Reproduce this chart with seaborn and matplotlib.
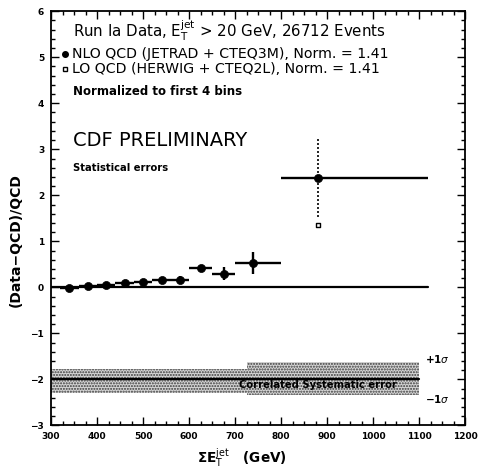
import matplotlib
matplotlib.use("Agg")
import matplotlib.pyplot as plt
import seaborn as sns
import numpy as np
import pandas as pd
from matplotlib.ticker import MultipleLocator

# ---- data ----
nlo_x = [340, 380, 420, 460, 500, 540, 580, 625, 675, 738, 881]
nlo_y = [-0.02, 0.02, 0.05, 0.09, 0.12, 0.16, 0.17, 0.41, 0.30, 0.53, 2.37]
nlo_yerr = [0.02, 0.02, 0.03, 0.04, 0.05, 0.06, 0.07, 0.06, 0.15, 0.24, 0.85]
bin_lo = [320, 360, 400, 440, 480, 520, 560, 600, 650, 700, 800]
bin_hi = [360, 400, 440, 480, 520, 560, 600, 650, 700, 800, 1120]

lo_x = [881]
lo_y = [1.35]

zero_line_x = [300, 1120]
sys_line_x = [300, 1100]
sys_center = -2.0
band_x = [300, 725, 1100]
band_upper = [-1.78, -1.62, -1.62]
band_lower = [-2.29, -2.33, -2.33]

xticks = [300, 400, 500, 600, 700, 800, 900, 1000, 1100, 1200]
yticks = [-3, -2, -1, 0, 1, 2, 3, 4, 5, 6]

sns.set_style("ticks")
plt.rcParams['font.family'] = ['DejaVu Sans']
plt.rcParams['text.color'] = 'black'
plt.rcParams['axes.labelcolor'] = 'black'
plt.rcParams['xtick.color'] = 'black'
plt.rcParams['ytick.color'] = 'black'
plt.rcParams['mathtext.default'] = 'regular'

fig = plt.figure(figsize=(4.82, 4.69), dpi=100)
ax = fig.add_axes([0.106, 0.093, 0.859, 0.883])

df = pd.DataFrame({"x": nlo_x, "y": nlo_y, "yerr": nlo_yerr,
                   "lo": bin_lo, "hi": bin_hi})
df["xm"] = df["x"] - df["lo"]
df["xp"] = df["hi"] - df["x"]

# systematic band
ax.fill_between(band_x, band_lower, band_upper, step="post",
                facecolor="#d6d6d6", edgecolor="#3a3a3a", hatch="......",
                linewidth=0, zorder=1)
ax.plot(sys_line_x, [sys_center, sys_center], color="black", lw=1.6, zorder=2)
ax.plot(zero_line_x, [0, 0], color="black", lw=1.6, zorder=2)

# error bars
main = df.iloc[:-1]
last = df.iloc[-1:]
ax.errorbar(main["x"], main["y"], xerr=[main["xm"], main["xp"]],
            yerr=main["yerr"], fmt="none", ecolor="black", elinewidth=1.7,
            capsize=0, zorder=3)
ax.errorbar(last["x"], last["y"], xerr=[last["xm"], last["xp"]],
            fmt="none", ecolor="black", elinewidth=1.7, capsize=0, zorder=3)
eb = ax.errorbar(last["x"], last["y"], yerr=last["yerr"], fmt="none",
                 ecolor="black", elinewidth=1.2, capsize=0, zorder=3)
eb[2][0].set_linestyle((0, (1.2, 1.2)))

sns.scatterplot(data=df, x="x", y="y", marker="o", s=34, color="black",
                edgecolor="black", linewidth=0.5, ax=ax, zorder=4, legend=False)
sns.scatterplot(x=lo_x, y=lo_y, marker="s", s=10, facecolor="white",
                edgecolor="black", linewidth=1.0, ax=ax, zorder=4, legend=False)

ax.set_xlim(300, 1200)
ax.set_ylim(-3, 6)
ax.set_xticks(xticks)
ax.set_yticks(yticks)
ax.set_xticklabels([str(t) for t in xticks], fontweight="bold", fontsize=6.5)
ax.set_yticklabels([("\u2212" + str(-t)) if t < 0 else str(t) for t in yticks],
                   fontweight="bold", fontsize=6.5)
ax.xaxis.set_minor_locator(MultipleLocator(25))
ax.yaxis.set_minor_locator(MultipleLocator(0.2))
ax.tick_params(which="both", direction="in", top=True, right=True,
               color="black", width=1.0)
ax.tick_params(which="major", length=6, pad=5)
ax.tick_params(which="minor", length=3)
for s in ax.spines.values():
    s.set_linewidth(1.3)
    s.set_color("black")

ax.set_xlabel(r"$\Sigma$E$_\mathrm{T}^\mathrm{jet}$   (GeV)", fontsize=9.8,
              fontweight="bold")
ax.set_ylabel("(Data\u2212QCD)/QCD", fontsize=10, fontweight="bold")
ax.xaxis.set_label_coords(0.461, -0.052)
ax.yaxis.set_label_coords(-0.068, 0.447)

# annotations
ax.text(348, 5.59, r"Run Ia Data, E$_\mathrm{T}^\mathrm{jet}$ > 20 GeV, 26712 Events",
        fontsize=10.8, va="center", ha="left")
ax.plot([330], [5.07], marker="o", color="black", ms=4, clip_on=False)
ax.text(345, 5.07, "NLO QCD (JETRAD + CTEQ3M), Norm. = 1.41",
        fontsize=10.2, va="center", ha="left")
ax.plot([330], [4.75], marker="s", mfc="white", mec="black", ms=3.5, mew=1,
        clip_on=False)
ax.text(345, 4.75, "LO QCD (HERWIG + CTEQ2L), Norm. = 1.41",
        fontsize=10.2, va="center", ha="left")
ax.text(348, 4.25, "Normalized to first 4 bins", fontsize=8.5,
        fontweight="bold", va="center", ha="left")
ax.text(348, 3.2, "CDF PRELIMINARY", fontsize=14, va="center", ha="left")
ax.text(348, 2.59, "Statistical errors", fontsize=7.2, fontweight="bold",
        va="center", ha="left")
ax.text(708, -2.12, "Correlated Systematic error", fontsize=7.2,
        fontweight="bold", va="center", ha="left")
ax.text(1113, -1.56, r"+1$\mathit{\sigma}$", fontsize=7.5, fontweight="bold",
        va="center", ha="left")
ax.text(1113, -2.43, r"$-$1$\mathit{\sigma}$", fontsize=7.5, fontweight="bold",
        va="center", ha="left")

fig.savefig("out.png", dpi=100)
